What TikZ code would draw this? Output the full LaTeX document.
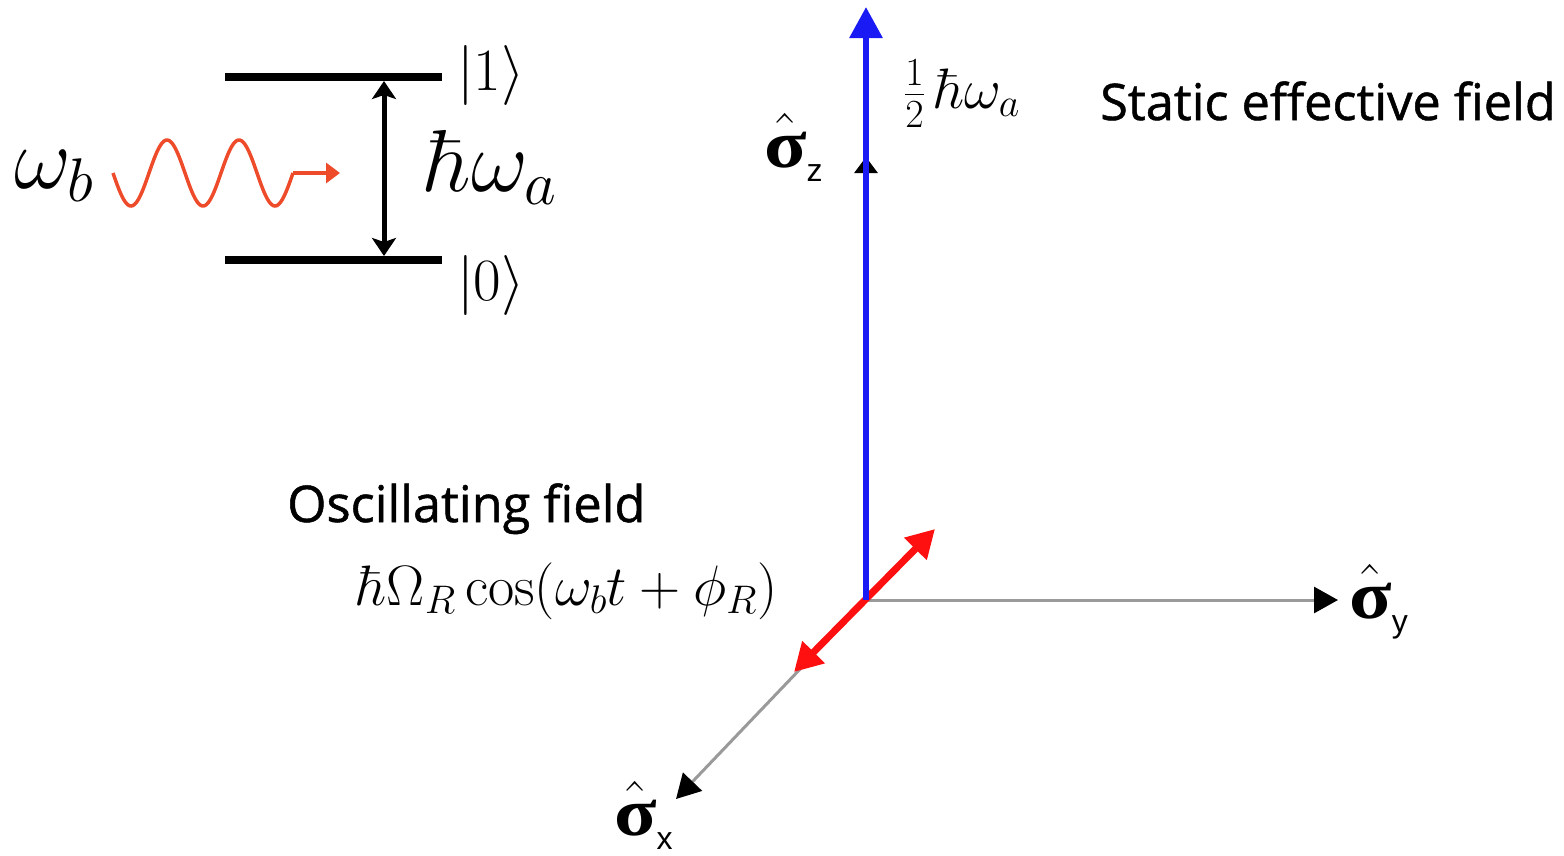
\RequirePackage{fix-cm}
\documentclass[tikz,border=0pt]{standalone}
\usepackage[no-math]{fontspec}
\usetikzlibrary{arrows.meta}
\newfontfamily\labelfont[FakeBold=1]{Open Sans}
\newfontfamily\sigfont[FakeStretch=1.15]{Liberation Serif}
\newfontfamily\subfont{Liberation Sans}
\definecolor{WaveRed}{HTML}{EE4B2B}
\definecolor{FieldBlue}{HTML}{1A1AF5}
\definecolor{FieldRed}{HTML}{FF1010}
\definecolor{AxisGrey}{HTML}{9A9A9A}
\newcommand{\sigop}[1]{$\hat{\mbox{\sigfont\bfseries σ}}$\raisebox{-0.22em}{\subfont\fontsize{32}{32}\selectfont #1}}

\begin{document}
\begin{tikzpicture}[x=1pt,y=-1pt,>=Latex,
  energyline/.style={line width=8pt},
  axisline/.style={AxisGrey,line width=3pt},
  bigmath/.style={inner sep=0pt,font=\fontsize{88}{96}\selectfont},
  ketmath/.style={inner sep=0pt,font=\fontsize{60}{66}\selectfont},
  midmath/.style={inner sep=0pt,font=\fontsize{57}{63}\selectfont},
  fieldtext/.style={inner sep=0pt,font=\labelfont\fontsize{50.5}{56}\selectfont},
  sigmalabel/.style={inner sep=0pt,font=\fontsize{68}{68}\selectfont}]
\useasboundingbox (0,0) rectangle (1564,855);

% two-level system
\draw[energyline] (225,77) coordinate (upL) -- (442,77) coordinate (upR);
\draw[energyline] (225,260) coordinate (loL) -- (442,260) coordinate (loR);
\coordinate (gapTop) at (384,81);
\coordinate (gapBot) at (384,256);
\draw[line width=5pt,{Stealth[length=18pt,width=24pt,inset=4pt]}-{Stealth[length=18pt,width=24pt,inset=4pt]}] (gapTop) -- (gapBot);
\node[ketmath,anchor=base west] (ket1) at (457,90) {$|1\rangle$};
\node[ketmath,anchor=base west] (ket0) at (457,300) {$|0\rangle$};
\node[bigmath,anchor=base west] (gap) at (425,191) {$\hbar\omega_a$};
\node[bigmath,anchor=base west] (drivefreq) at (14,188) {$\omega_b$};

% incoming photon
\coordinate (waveEnd) at (293,173);
\coordinate (waveTip) at (340,173);
\draw[WaveRed,line width=3.5pt] plot[domain=0:180,samples=120] ({113+\x},{173+33*sin(5*\x)});
\draw[WaveRed,line width=3.5pt,-{Triangle[length=14pt,width=20pt]}] (waveEnd) -- (waveTip);

% axes
\coordinate (O) at (866,600);
\coordinate (zTip) at (866,157);
\coordinate (yTip) at (1338,600);
\coordinate (xTip) at (676,799);
\draw[axisline,-{Triangle[length=16pt,width=23pt,color=black]}] (O) -- (zTip);
\draw[axisline,-{Triangle[length=24pt,width=26pt,color=black]}] (O) -- (yTip);
\draw[axisline,-{Triangle[length=24pt,width=26pt,color=black]}] (O) -- (xTip);
\node[sigmalabel,anchor=base west] (sz) at (764,167) {\sigop{z}};
\node[sigmalabel,anchor=base west] (sy) at (1349,618) {\sigop{y}};
\node[sigmalabel,anchor=base west] (sx) at (614,835) {\sigop{x}};

% fields
\coordinate (Rlo) at (794,672);
\coordinate (Rhi) at (935,529);
\draw[FieldRed,line width=7pt,{Triangle[length=28pt,width=30pt]}-{Triangle[length=28pt,width=30pt]}] (Rlo) -- (Rhi);
\coordinate (Bz) at (866,7);
\draw[FieldBlue,line width=6pt,-{Triangle[length=31pt,width=32pt]}] (O) -- (Bz);
\node[midmath,anchor=base west] (half) at (904,108) {$\frac{1}{2}\,\hbar\omega_a$};
\node[fieldtext,anchor=base west] (static) at (1100,120) {Static effective field};
\node[fieldtext,anchor=base west] (osc) at (287,522) {Oscillating field};
\node[midmath,anchor=base west] (drive) at (357,605) {$\hbar\Omega_R\cos(\omega_b t+\phi_R)$};
\end{tikzpicture}
\end{document}
